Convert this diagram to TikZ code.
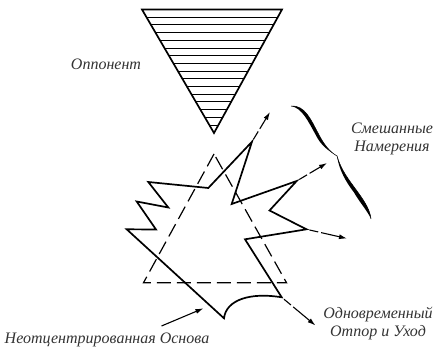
\documentclass[tikz,border=0pt]{standalone}
\usepackage{fontspec}
\setmainfont{Liberation Serif}
\usetikzlibrary{arrows.meta}

\tikzset{
  outline/.style={line width=1.7pt, line join=miter},
  hatch/.style={line width=0.8pt},
  guide/.style={line width=1.2pt, dash pattern=on 14pt off 6pt},
  move/.style={line width=1.1pt, -{Latex[length=8pt,width=5pt]}, dash pattern=on 0pt off 3pt on 9pt off 3pt on 80pt},
  push/.style={line width=1.1pt, -{Latex[length=8pt,width=5pt]}},
  caption/.style={font=\itshape\fontsize{16}{18}\selectfont, text=black!80, inner sep=0pt, align=center}
}

\begin{document}
\begin{tikzpicture}[x=1pt,y=-1pt]
  \useasboundingbox (0,0) rectangle (433,347);

  % opponent
  \coordinate (oppL) at (142,9.5);
  \coordinate (oppR) at (282,9.5);
  \coordinate (oppB) at (214,133);
  \begin{scope}
    \clip (oppL) -- (oppR) -- (oppB) -- cycle;
    \foreach \k in {1,...,15}
      \draw[hatch] (130,9.5+7.7*\k) -- (300,9.5+7.7*\k);
  \end{scope}
  \draw[outline] (oppL) -- (oppR) -- (oppB) -- cycle;
  \node[caption] (opp) at (106,64) {Оппонент};

  % dashed base triangle
  \coordinate (baseT) at (214,154);
  \coordinate (baseL) at (143.5,282.7);
  \coordinate (baseR) at (286.5,282.7);
  \draw[guide] (baseT) -- (baseL) -- (baseR) -- cycle;

  % star
  \coordinate (top) at (252,141.7);
  \coordinate (r1) at (296.7,181);
  \coordinate (r2) at (306.5,229.3);
  \coordinate (bot) at (281.7,297.3);
  \coordinate (cusp) at (224,318.3);
  \draw[outline] (126.7,229.3) -- (156,229.5) -- (136.7,201.5) -- (168.3,207.5)
    -- (148.3,182) -- (208.3,188) -- (top) -- (231.7,204) -- (r1)
    -- (269.5,210.5) -- (r2) -- (245,239.3) -- (bot)
    .. controls (250,292) and (226,300) .. (cusp) -- cycle;

  % moves
  \coordinate (t1) at (270,112);
  \coordinate (t2) at (327,163);
  \coordinate (t3) at (347,238.5);
  \coordinate (t4) at (315.5,325.5);
  \draw[move] (top) -- (t1);
  \draw[move] (r1) -- (t2);
  \draw[move] (r2) -- (t3);
  \draw[move] (bot) -- (t4);

  % brace
  \fill (291,106) .. controls (305,105) and (311,120) .. (318,133)
    .. controls (324,145) and (330,152) .. (337,156)
    .. controls (329,151) and (321,146) .. (315.5,134.5)
    .. controls (308,121) and (302,108) .. (291,106) -- cycle;
  \fill (337,156) .. controls (341,170) and (349,180) .. (357,191)
    .. controls (365,202) and (370,210) .. (371,219)
    .. controls (367,210) and (360,203) .. (354,192.5)
    .. controls (346,182) and (339,170) .. (337,156) -- cycle;
  \draw[line width=0.5pt] (291,106) .. controls (305,105) and (311,120) .. (318,133)
    .. controls (324,145) and (330,152) .. (337,156)
    .. controls (341,170) and (349,180) .. (357,191)
    .. controls (365,202) and (370,210) .. (371,219);

  \node[caption] (mixed) at (392,138.5) {Смешанные\\Намерения};
  \node[caption] (both) at (378,324) {Одновременный\\Отпор и Уход};
  \node[caption] (base) at (107,340) {Неотцентрированная Основа};
  \coordinate (b0) at (161.5,326);
  \coordinate (b1) at (203.5,308.3);
  \draw[push] (b0) -- (b1);
\end{tikzpicture}
\end{document}
